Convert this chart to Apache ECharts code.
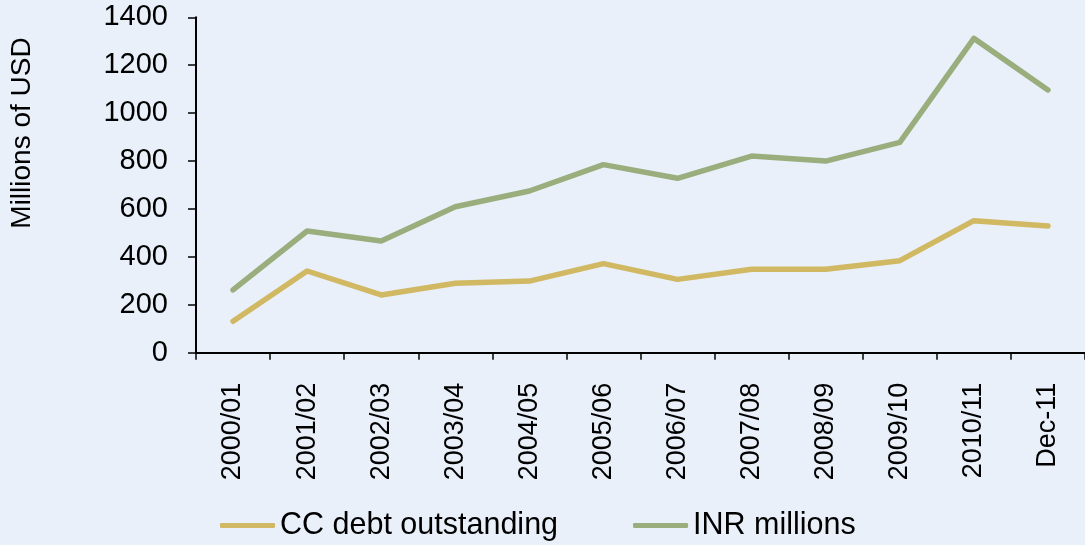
<!DOCTYPE html>
<html>
<head>
<meta charset="utf-8">
<script src="https://cdn.jsdelivr.net/npm/echarts@6/dist/echarts.min.js"></script>
<style>
  html, body { margin: 0; padding: 0; background: #e9f0fa; }
  #chart { width: 1085px; height: 545px; }
</style>
</head>
<body>
<div id="chart"></div>
<script>
// Fiscal-year categories along the horizontal axis
const categories = ['2000/01', '2001/02', '2002/03', '2003/04', '2004/05', '2005/06',
                    '2006/07', '2007/08', '2008/09', '2009/10', '2010/11', 'Dec-11'];

// Series values (millions)
const ccDebt = [131, 341, 241, 290, 299, 372, 306, 348, 348, 384, 551, 529];
const inrMillions = [262, 508, 466, 609, 675, 785, 728, 821, 800, 878, 1312, 1097];

// Value axis ticks
const yMin = 0;
const yMax = 1400;
const yStep = 200;

const FONT = 'Liberation Sans, Arial, sans-serif';
const GOLD = '#d1b862';
const GREEN = '#9aae7d';

const chart = echarts.init(document.getElementById('chart'), null, { renderer: 'canvas' });

chart.setOption({
  backgroundColor: '#e9f0fa',
  animation: false,
  grid: { left: 196, right: 0, top: 17.3, bottom: 192.3, containLabel: false },
  legend: {
    left: 220,
    top: 510,
    padding: 0,
    itemWidth: 55,
    itemHeight: 5,
    itemGap: 75,
    icon: 'roundRect',
    textStyle: { fontFamily: FONT, fontSize: 30.5, color: '#000' },
    data: [
      { name: 'CC debt outstanding', itemStyle: { color: GOLD } },
      { name: 'INR millions', itemStyle: { color: GREEN } }
    ]
  },
  graphic: [{
    type: 'text',
    x: 22,
    y: 133,
    rotation: Math.PI / 2,
    style: {
      text: 'Millions of USD',
      font: '28px ' + FONT,
      fill: '#000',
      textAlign: 'center',
      textVerticalAlign: 'middle'
    }
  }],
  xAxis: {
    type: 'category',
    data: categories,
    boundaryGap: true,
    axisLine: { lineStyle: { color: '#000', width: 2 } },
    axisTick: { show: true, length: 7, alignWithLabel: false, lineStyle: { color: '#000', width: 1.5 } },
    axisLabel: {
      rotate: 90,
      margin: 30,
      interval: 0,
      fontFamily: FONT,
      fontSize: 27,
      color: '#000'
    },
    splitLine: { show: false }
  },
  yAxis: {
    type: 'value',
    min: yMin,
    max: yMax,
    interval: yStep,
    axisLine: { show: true, lineStyle: { color: '#000', width: 2 } },
    axisTick: { show: true, length: 8, lineStyle: { color: '#000', width: 1.5 } },
    axisLabel: {
      margin: 28,
      fontFamily: FONT,
      fontSize: 29,
      color: '#000',
      formatter: function (v) { return String(v); }
    },
    splitLine: { show: false }
  },
  series: [
    {
      name: 'CC debt outstanding',
      type: 'line',
      data: ccDebt,
      showSymbol: false,
      symbol: 'none',
      lineStyle: { color: GOLD, width: 5.5, cap: 'round', join: 'round' },
      itemStyle: { color: GOLD }
    },
    {
      name: 'INR millions',
      type: 'line',
      data: inrMillions,
      showSymbol: false,
      symbol: 'none',
      lineStyle: { color: GREEN, width: 5.5, cap: 'round', join: 'round' },
      itemStyle: { color: GREEN }
    }
  ]
});
</script>
</body>
</html>
